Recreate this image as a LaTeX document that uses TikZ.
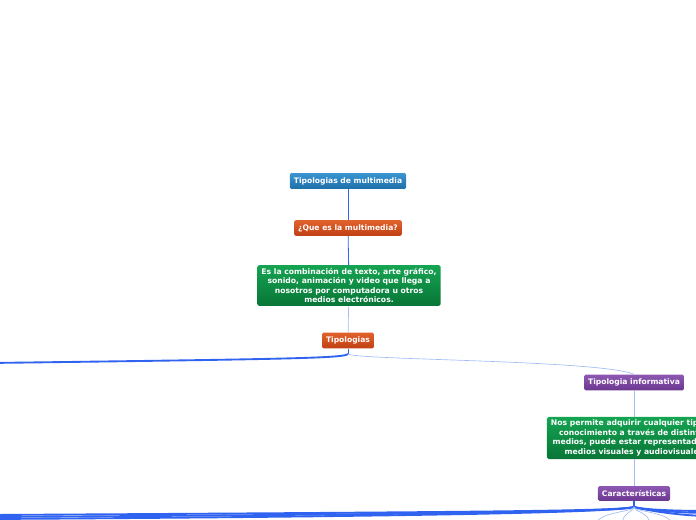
\documentclass[tikz,border=0pt]{standalone}
\usepackage{fontspec}
\setmainfont{DejaVu Sans}
\definecolor{topblue}{HTML}{3A95D2}
\definecolor{botblue}{HTML}{1E6EA8}
\definecolor{toporange}{HTML}{E2622C}
\definecolor{botorange}{HTML}{C03F14}
\definecolor{topgreen}{HTML}{15A452}
\definecolor{botgreen}{HTML}{087536}
\definecolor{toppurple}{HTML}{8E58B2}
\definecolor{botpurple}{HTML}{6A378F}
\definecolor{linkblue}{HTML}{2F63F0}
\definecolor{lightlink}{HTML}{A3BCF6}

\begin{document}
\begin{tikzpicture}[x=0.75pt, y=-0.75pt,
    box/.style={rounded corners=1.2pt, text=white, inner xsep=3pt, inner ysep=3.2pt,
        font=\fontsize{5.7}{7}\selectfont\bfseries, align=center},
    title/.style={box, top color=topblue, bottom color=botblue},
    question/.style={box, top color=toporange, bottom color=botorange},
    answer/.style={box, top color=topgreen, bottom color=botgreen, inner ysep=2.3pt,
        font=\fontsize{5.75}{7.1}\selectfont\bfseries},
    kind/.style={box, top color=toppurple, bottom color=botpurple},
    link/.style={draw=linkblue, line width=0.6pt},
    thin link/.style={draw=lightlink, line width=0.5pt},
    thick link/.style={draw=linkblue, line width=1.4pt}]
    \useasboundingbox (0,0) rectangle (696,520);
    \clip (0,0) rectangle (696,520);
    \def\c{348}
    \def\r{634}
    % Nodes
    \node[title] (multi) at (\c,181) {Tipologias de multimedia};
    \node[question] (que) at (\c,228) {¿Que es la multimedia?};
    \node[answer] (def) at (349,285.5) {Es la combinación de texto, arte gráfico,\\sonido, animación y video que llega a\\nosotros por computadora u otros\\medios electrónicos.};
    \node[question] (tipos) at (\c,340.5) {Tipologias};
    \node[kind] (info) at (\r,382.5) {Tipologia informativa};
    \node[answer] (permite) at (\r,438) {Nos permite adquirir cualquier tipo de\\conocimiento a través de distintos\\medios, puede estar representada en\\medios visuales y audiovisuales};
    \node[kind] (carac) at (\r,493.5) {Características};
    % Off-screen children
    \coordinate (izq) at (-10,363);
    \coordinate (j1) at (\c,354);
    \coordinate (j2) at (\r,507);
    % Connectors
    \draw[link] (multi) -- (que);
    \draw[link] (que) -- (def);
    \draw[thin link] (def) -- (tipos);
    \draw[link] (tipos) -- (j1);
    \draw[thick link] (j1) .. controls (344,358) and (300,359) .. (izq);
    \draw[thin link] (j1) .. controls (355,360) and (600,360) .. (info.north);
    \draw[thin link] (info) -- (permite);
    \draw[thin link] (permite) -- (carac);
    \draw[link, line width=1pt] (carac) -- (j2);
    \foreach \y in {515,517,519}
        \draw[thick link] (j2) .. controls (620,511) and (500,\y-3) .. (-10,\y);
    \foreach \y in {511,513,516}
        \draw[thick link] (j2) .. controls (645,510) and (680,\y) .. (710,\y);
    \foreach \x in {596,622,650,672}
        \draw[thin link] (j2) .. controls (\r,512) and (\x,512) .. (\x,525);
\end{tikzpicture}
\end{document}
